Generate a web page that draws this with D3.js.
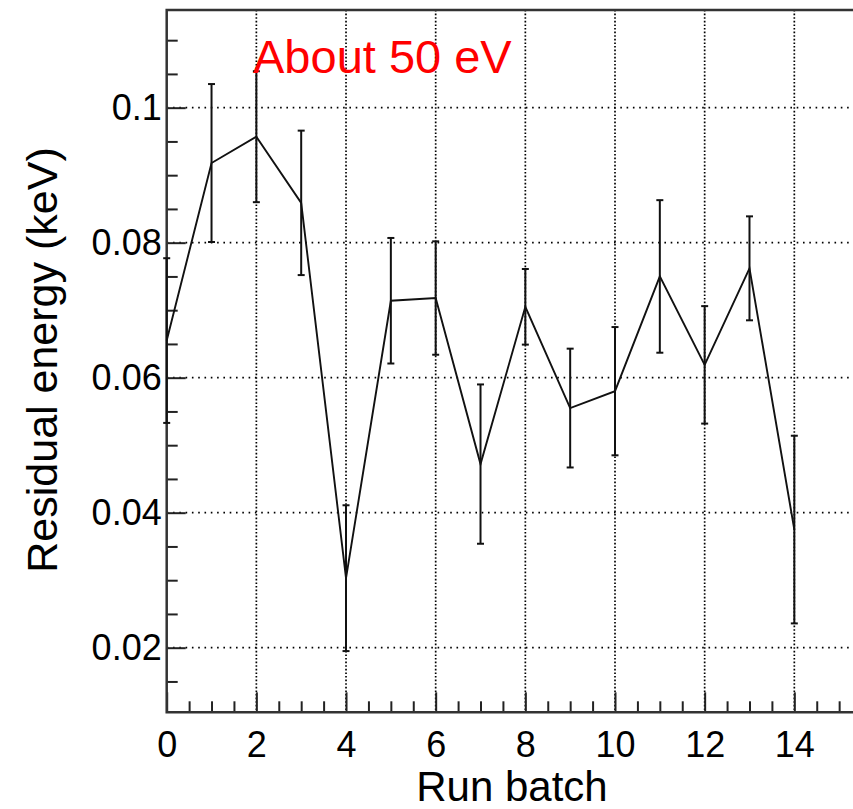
<!DOCTYPE html>
<html>
    <head>
        <title>Residual energy per run batch</title>
        <style>
            body, html {
              margin: 0;
              padding: 0;
              background: #fff;
            }
            svg text {
              font-family: "Liberation Sans", Arial, Helvetica, sans-serif;
            }
        </style>
    </head>
    <body>

        <svg id="svg" width="853" height="809"></svg>

        <script src="https://d3js.org/d3.v7.min.js"></script>
        <script>
            // run batch index
            const batches = [0, 1, 2, 3, 4, 5, 6, 7, 8, 9, 10, 11, 12, 13, 14]
            // residual energy (keV)
            const residual = [0.0655, 0.0918, 0.0957, 0.0859, 0.0303, 0.0714, 0.0718, 0.0472,
                              0.0705, 0.0555, 0.0580, 0.0750, 0.0619, 0.0762, 0.0375]
            // symmetric errors (keV)
            const errors = [0.0122, 0.0117, 0.0097, 0.0107, 0.0108, 0.0093, 0.0084, 0.0118,
                            0.0056, 0.0088, 0.0095, 0.0113, 0.0087, 0.0077, 0.0139]

            const xTicks = [0, 2, 4, 6, 8, 10, 12, 14]
            const yTicks = [0.02, 0.04, 0.06, 0.08, 0.1]
            const yTickLabels = ['0.02', '0.04', '0.06', '0.08', '0.1']
            const annotation = 'About 50 eV'

            const frameLeft = 166.7, frameTop = 10, frameBottom = 712.3
            const pxPerRun = 44.83

            const svg = d3.select('#svg')

            // x scale - right side of the frame runs off the picture
            const xscale = d3.scaleLinear()
                .domain([0, 16])
                .range([frameLeft, frameLeft + 16 * pxPerRun])

            // y scale
            const yscale = d3.scaleLinear()
                .domain([0.01043, 0.11447])
                .range([frameBottom, frameTop])

            const xMinor = d3.range(0, 16.01, 0.5).filter(v => v % 2 !== 0)
            const yMinor = d3.range(0.015, 0.1146, 0.005).filter(v => Math.abs(v / 0.02 - Math.round(v / 0.02)) > 0.01)

            // grid
            const grid = svg.append('g')
            grid.selectAll('.vgrid')
                .data(xTicks.filter(d => d > 0))
                .enter()
                .append('line')
                .attr('x1', d => xscale(d))
                .attr('x2', d => xscale(d))
                .attr('y1', frameTop)
                .attr('y2', frameBottom)
                .attr('stroke', '#000')
                .attr('stroke-width', 1.7)
                .attr('stroke-dasharray', '1.6,2.0')
            grid.selectAll('.hgrid')
                .data(yTicks)
                .enter()
                .append('line')
                .attr('x1', frameLeft)
                .attr('x2', 853)
                .attr('y1', d => yscale(d))
                .attr('y2', d => yscale(d))
                .attr('stroke', '#000')
                .attr('stroke-width', 1.7)
                .attr('stroke-dasharray', '1.6,4.7')

            // axes, ticks pointing inwards
            const leftAxis = d3.axisLeft(yscale)
                .tickValues(yTicks)
                .tickFormat((d, i) => yTickLabels[i])
                .tickSize(-19)
                .tickPadding(5)
            svg.append('g')
                .attr('transform', `translate(${frameLeft}, 0)`)
                .call(leftAxis)

            const leftMinor = d3.axisLeft(yscale)
                .tickValues(yMinor)
                .tickFormat('')
                .tickSize(-11)
            svg.append('g')
                .attr('transform', `translate(${frameLeft}, 0)`)
                .call(leftMinor)

            const bottomAxis = d3.axisBottom(xscale)
                .tickValues(xTicks)
                .tickSize(-20)
                .tickPadding(19)
            const gx = svg.append('g')
                .attr('transform', `translate(0, ${frameBottom})`)
                .call(bottomAxis)

            const bottomMinor = d3.axisBottom(xscale)
                .tickValues(xMinor)
                .tickFormat('')
                .tickSize(-11)
            svg.append('g')
                .attr('transform', `translate(0, ${frameBottom})`)
                .call(bottomMinor)

            svg.selectAll('.domain').remove()
            svg.selectAll('.tick line')
                .attr('stroke', '#222')
                .attr('stroke-width', 2)
            svg.selectAll('.tick text')
                .attr('font-size', 36)
                .attr('fill', '#000')
            gx.selectAll('.tick text').attr('dy', '0.71em')

            // frame
            svg.append('path')
                .attr('d', `M853,${frameTop}H${frameLeft}V${frameBottom}H853`)
                .attr('fill', 'none')
                .attr('stroke', '#333')
                .attr('stroke-width', 2.5)

            // error bars
            const bars = svg.append('g')
                .attr('stroke', '#111')
                .attr('stroke-width', 2)
            bars.selectAll('.ebar')
                .data(batches)
                .enter()
                .append('line')
                .attr('x1', (d, i) => xscale(d))
                .attr('x2', (d, i) => xscale(d))
                .attr('y1', (d, i) => yscale(residual[i] + errors[i]))
                .attr('y2', (d, i) => yscale(residual[i] - errors[i]))
            bars.selectAll('.capTop')
                .data(batches)
                .enter()
                .append('line')
                .attr('x1', d => xscale(d) - 3.5)
                .attr('x2', d => xscale(d) + 3.5)
                .attr('y1', (d, i) => yscale(residual[i] + errors[i]))
                .attr('y2', (d, i) => yscale(residual[i] + errors[i]))
            bars.selectAll('.capBottom')
                .data(batches)
                .enter()
                .append('line')
                .attr('x1', d => xscale(d) - 3.5)
                .attr('x2', d => xscale(d) + 3.5)
                .attr('y1', (d, i) => yscale(residual[i] - errors[i]))
                .attr('y2', (d, i) => yscale(residual[i] - errors[i]))

            // connecting line
            const line = d3.line()
                .x((d, i) => xscale(d))
                .y((d, i) => yscale(residual[i]))
            svg.append('path')
                .datum(batches)
                .attr('d', line)
                .attr('fill', 'none')
                .attr('stroke', '#111')
                .attr('stroke-width', 1.9)

            // axis titles
            svg.append('text')
                .attr('x', 512)
                .attr('y', 801)
                .attr('text-anchor', 'middle')
                .attr('font-size', 42)
                .text('Run batch')

            svg.append('text')
                .attr('transform', 'translate(57, 360) rotate(-90)')
                .attr('text-anchor', 'middle')
                .attr('font-size', 43)
                .text('Residual energy (keV)')

            // annotation
            svg.append('text')
                .attr('x', 253)
                .attr('y', 72.5)
                .attr('font-size', 47)
                .attr('fill', '#ff0000')
                .text(annotation)
        </script>
    </body>
</html>
